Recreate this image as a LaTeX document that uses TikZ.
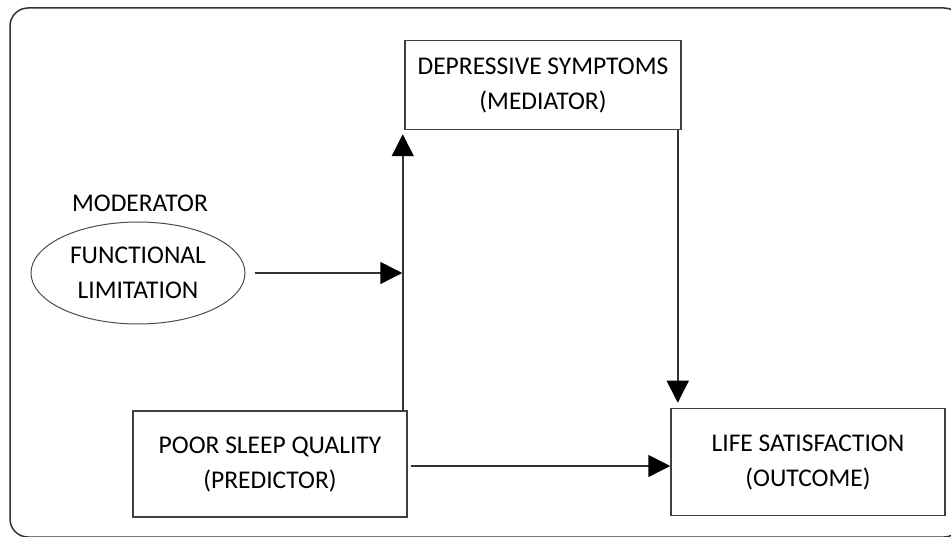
\documentclass[tikz,border=0pt]{standalone}
\usepackage{fontspec}
\setmainfont{Carlito}
\usetikzlibrary{positioning,arrows.meta,shapes.geometric}
\tikzset{
x=1pt, y=-1pt, % pixel-like units, y going down
every node/.style={font=\fontsize{25.5}{35}\selectfont, align=center},
block/.style={draw=black!75, line width=1.5pt, inner sep=0pt},
arr/.style={-{Triangle[length=22pt,width=22pt,color=black]}, line width=1.5pt, draw=black!80},
}

\begin{document}
\begin{tikzpicture}
   \useasboundingbox (0,0) rectangle (951,537);
   % frame
   \draw[line width=1.5pt, black!80, rounded corners=18pt] (10,8) rectangle (962,537);
   % nodes
   \node[block, minimum width=276pt, minimum height=89pt] (dep) at (543,85) {DEPRESSIVE SYMPTOMS\\(MEDIATOR)};
   \node[block, minimum width=274pt, minimum height=106pt] (pred) at (270,464) {POOR SLEEP QUALITY\\(PREDICTOR)};
   \node[block, minimum width=274pt, minimum height=107pt] (out) at (808,462) {LIFE SATISFACTION\\(OUTCOME)};
   \node[ellipse, draw=black!70, line width=1pt, inner sep=0pt, minimum width=214pt, minimum height=102pt] (func) at (138,273) {FUNCTIONAL\\LIMITATION};
   \node (mod) at (140,203) {MODERATOR};
   \coordinate (hit) at (dep.south west |- func.east);
   % paths
   \draw[arr, shorten >=4pt] ([xshift=-1.5pt]dep.south west |- pred.north) -- ([xshift=-1.5pt]dep.south west);
   \draw[arr] ([xshift=9pt]func.east) -- ([xshift=-2pt]hit);
   \draw[arr] ([xshift=3pt,yshift=-2pt]pred.east) -- ([yshift=-2pt]out.west |- pred.east);
   \draw[arr, shorten >=5pt] ([xshift=-4pt]dep.south east) -- ([xshift=-4pt]dep.south east |- out.north);
\end{tikzpicture}
\end{document}
